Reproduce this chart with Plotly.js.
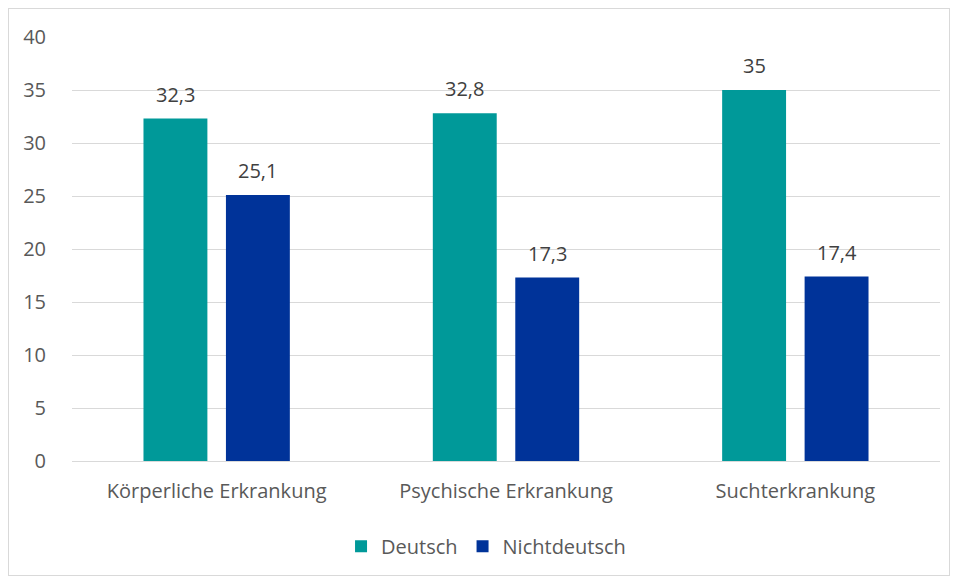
<!DOCTYPE html>
<html><head><meta charset="utf-8">
<script src="https://cdn.plot.ly/plotly-3.0.1.min.js"></script>
<style>
html,body{margin:0;padding:0;background:#fff;}
#wrap{position:relative;width:955px;height:579px;}
#chart{width:955px;height:579px;}
#frame{position:absolute;left:8px;top:8px;width:940px;height:566px;border:1px solid #d9d9d9;pointer-events:none;}
</style></head>
<body>
<div id="wrap"><div id="chart"></div><div id="frame"></div></div>
<script>
const categories = ["Körperliche Erkrankung", "Psychische Erkrankung", "Suchterkrankung"];
const deutsch = [32.3, 32.8, 35];
const nichtdeutsch = [25.1, 17.3, 17.4];
const yTicks = [0, 5, 10, 15, 20, 25, 30, 35, 40];

const fmt = v => String(v).replace('.', ',');
const FAM = "Open Sans, Liberation Sans, sans-serif";
const labelFont = {family: FAM, size: 20, color: "#404040"};

const bargap = 0.43, bargroupgap = 0.225;
const slot = (1 - bargap) / 2;

const traces = [
  {type: "bar", name: "Deutsch", x: categories, y: deutsch,
   marker: {color: "#009999"}, hoverinfo: "none"},
  {type: "bar", name: "Nichtdeutsch", x: categories, y: nichtdeutsch,
   marker: {color: "#003399"}, hoverinfo: "none"}
];

const annotations = [];
[deutsch, nichtdeutsch].forEach((series, s) => {
  series.forEach((v, i) => {
    annotations.push({x: i + (s === 0 ? -slot / 2 : slot / 2), y: v, xref: "x", yref: "y",
      text: fmt(v), showarrow: false, yanchor: "bottom", yshift: 9, font: labelFont});
  });
});

const layout = {
  width: 955, height: 579,
  margin: {l: 72, r: 15, t: 37, b: 118, autoexpand: false},
  paper_bgcolor: "#fff", plot_bgcolor: "#fff",
  separators: ",.",
  barmode: "group", bargap: bargap, bargroupgap: bargroupgap,
  font: {family: FAM, size: 20, color: "#595959"},
  xaxis: {showgrid: false, showline: true, linecolor: "#d9d9d9", linewidth: 1, automargin: false,
          ticks: "", tickfont: {size: 20, color: "#595959"}, ticklabelstandoff: 12, zeroline: false},
  yaxis: {range: [0, 40], tickvals: yTicks, ticktext: yTicks.map(String), automargin: false,
          showgrid: true, gridcolor: "#d9d9d9", gridwidth: 1, zeroline: false, showline: false,
          ticks: "outside", ticklen: 21, tickcolor: "rgba(0,0,0,0)",
          tickfont: {size: 20, color: "#595959"}},
  annotations: annotations,
  showlegend: true,
  legend: {orientation: "h", x: 0.477, xanchor: "center", y: -0.155, yanchor: "top",
           font: {size: 20, color: "#595959"}, itemwidth: 30, traceorder: "normal"}
};

Plotly.newPlot("chart", traces, layout, {displayModeBar: false, staticPlot: true});
</script>
</body></html>
